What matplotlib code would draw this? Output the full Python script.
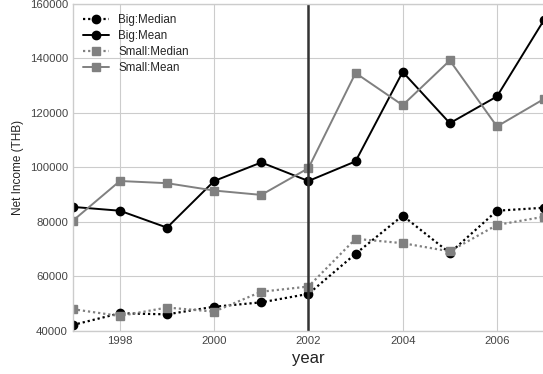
import matplotlib
matplotlib.use("Agg")
import matplotlib.pyplot as plt

plt.style.use("seaborn-v0_8-whitegrid")
plt.rcParams["font.family"] = ["Liberation Sans", "DejaVu Sans"]

years = [1997, 1998, 1999, 2000, 2001, 2002, 2003, 2004, 2005, 2006, 2007]
big_median = [42200, 46500, 46100, 48900, 50500, 53600, 68300, 82300, 68600, 84100, 85200]
big_mean = [85500, 84100, 77900, 95000, 101800, 95000, 102200, 135000, 116200, 126000, 154100]
small_median = [48000, 45500, 48600, 47100, 54400, 56300, 73800, 72200, 69200, 78900, 81900]
small_mean = [80400, 95000, 94200, 91500, 89900, 99700, 134600, 122800, 139200, 115000, 125100]
break_year = 2002

dotted = (0, (1, 1.3))

fig = plt.figure(figsize=(5.43, 3.74), dpi=100)
ax = fig.add_axes([0.134, 0.115, 0.868, 0.875])

ax.plot(years, big_median, color="black", linestyle=dotted, linewidth=1.6,
        marker="o", markersize=6, label="Big:Median")
ax.plot(years, big_mean, color="black", linestyle="-", linewidth=1.4,
        marker="o", markersize=6, label="Big:Mean")
ax.plot(years, small_median, color="gray", linestyle=dotted, linewidth=1.6,
        marker="s", markersize=6, label="Small:Median")
ax.plot(years, small_mean, color="gray", linestyle="-", linewidth=1.4,
        marker="s", markersize=6, label="Small:Mean")

ax.axvline(break_year, color="#333333", linewidth=1.8)

ax.set_xlim(1997, 2007)
ax.set_ylim(40000, 160000)
ax.set_xticks([1998, 2000, 2002, 2004, 2006])
ax.set_yticks(range(40000, 160001, 20000))
ax.tick_params(labelsize=8.2, colors="#444444")

ax.set_xlabel("year", fontsize=12, color="#222222")
ax.set_ylabel("Net Income (THB)", fontsize=8.5, color="#222222")

ax.legend(loc="upper left", fontsize=8.4, frameon=False, handlelength=2.2,
          labelspacing=0.33)

fig.savefig("out.png", dpi=100)
